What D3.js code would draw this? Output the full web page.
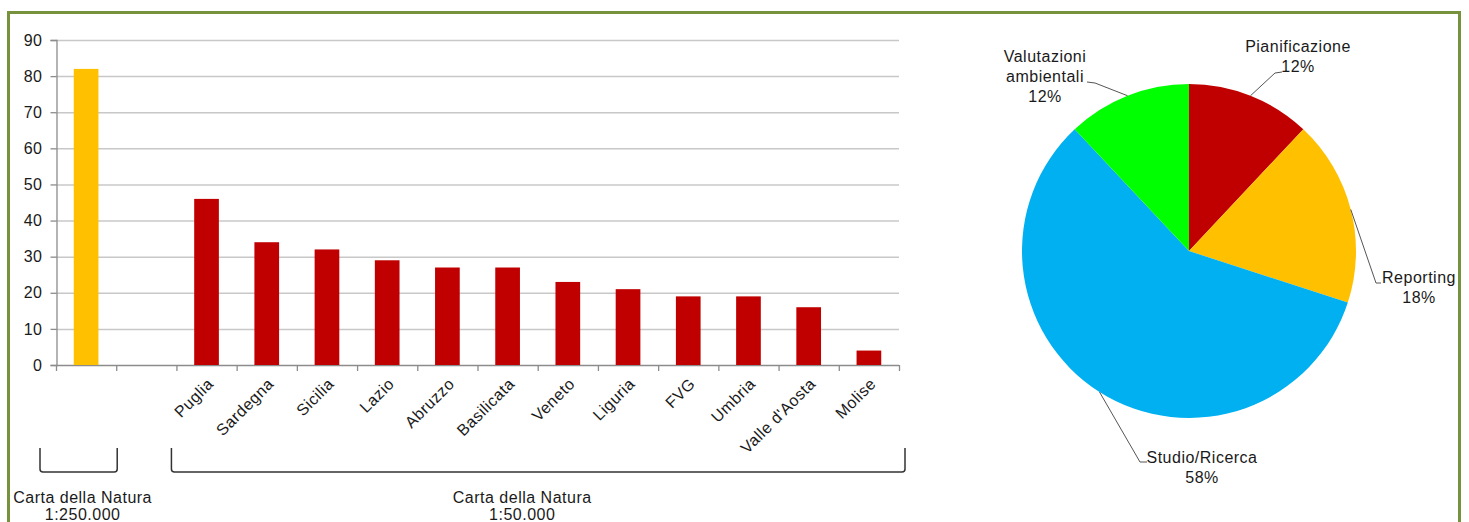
<!DOCTYPE html>
<html><head><meta charset="utf-8">
<script src="https://cdn.jsdelivr.net/npm/d3@7"></script>
<style>
html,body{margin:0;padding:0;background:#fff;}
svg{display:block;font-family:"Liberation Sans",Arial,sans-serif;}
svg text{letter-spacing:0.5px;}
</style></head>
<body>
<svg id="c" width="1469" height="522"></svg>
<script>
// ---- Bar chart data ----
const barCategories = ["CdN 1:250.000", "gap", "Puglia", "Sardegna", "Sicilia", "Lazio", "Abruzzo", "Basilicata", "Veneto", "Liguria", "FVG", "Umbria", "Valle d'Aosta", "Molise"];
const barLabels = ["", "", "Puglia", "Sardegna", "Sicilia", "Lazio", "Abruzzo", "Basilicata", "Veneto", "Liguria", "FVG", "Umbria", "Valle d'Aosta", "Molise"];
const barValues = [82, null, 46, 34, 32, 29, 27, 27, 23, 21, 19, 19, 16, 4];
const barGroup = ["250", null, "50", "50", "50", "50", "50", "50", "50", "50", "50", "50", "50", "50"];
const yTicks = [0, 10, 20, 30, 40, 50, 60, 70, 80, 90];
const groupNames = ["Carta della Natura", "Carta della Natura"];
const groupScales = ["1:250.000", "1:50.000"];

// ---- Pie data ----
const pieLabels = ["Pianificazione", "Reporting", "Studio/Ricerca", "Valutazioni ambientali"];
const pieValues = [12, 18, 58, 12];
const pieColors = ["#C00000", "#FFC000", "#00B0F0", "#00FF00"];

const svg = d3.select("#c");
const textColor = "#1a1a1a";
const FS = 16;

// frame
svg.append("rect").attr("x", 8.5).attr("y", 12.5).attr("width", 1451).attr("height", 530)
  .attr("fill", "none").attr("stroke", "#76923C").attr("stroke-width", 3);

// ---- Bar chart ----
const x = d3.scaleBand().domain(barCategories).range([56, 899]).paddingInner(0).paddingOuter(0);
const y = d3.scaleLinear().domain([0, 90]).range([365, 40]);
const g = svg.append("g");

// gridlines
g.selectAll("line.grid").data(yTicks.filter(t => t > 0)).join("line")
  .attr("x1", 56).attr("x2", 899).attr("y1", d => y(d) + 0.5).attr("y2", d => y(d) + 0.5)
  .attr("stroke", "#c8c8c8").attr("stroke-width", 1.5);

// y axis
const yAxis = g.append("g").attr("transform", "translate(56.5,0)")
  .call(d3.axisLeft(y).tickValues(yTicks).tickSize(6).tickPadding(8));
yAxis.select(".domain").attr("stroke", "#8c8c8c").attr("stroke-width", 1.3);
yAxis.selectAll(".tick line").attr("stroke", "#8c8c8c").attr("stroke-width", 1.3);
yAxis.selectAll(".tick text").attr("font-size", FS).attr("fill", textColor)
  .attr("font-family", '"Liberation Sans",Arial,sans-serif');

// x axis baseline + ticks at band boundaries
g.append("line").attr("x1", 56).attr("x2", 899).attr("y1", y(0) + 0.5).attr("y2", y(0) + 0.5)
  .attr("stroke", "#8c8c8c").attr("stroke-width", 1.3);
const boundaries = barCategories.map(c => x(c)).concat([x.range()[1]]);
g.selectAll("line.xt").data(boundaries).join("line")
  .attr("x1", d => d + 0.5).attr("x2", d => d + 0.5)
  .attr("y1", y(0)).attr("y2", y(0) + 6)
  .attr("stroke", "#8c8c8c").attr("stroke-width", 1.3);

// bars
const bw = x.bandwidth() * 0.41;
g.selectAll("rect.bar").data(barCategories.map((c, i) => ({c, v: barValues[i], grp: barGroup[i]})).filter(d => d.v != null))
  .join("rect")
  .attr("x", d => x(d.c) + (x.bandwidth() - bw) / 2)
  .attr("width", bw)
  .attr("y", d => y(d.v))
  .attr("height", d => y(0) - y(d.v))
  .attr("fill", d => d.grp === "250" ? "#FFC000" : "#C00000");

// rotated labels
g.selectAll("text.xl").data(barCategories.map((c, i) => ({c, l: barLabels[i]})).filter(d => d.l))
  .join("text")
  .attr("transform", d => `translate(${x(d.c) + x.bandwidth() / 2 + 4},${y(0) + 16}) rotate(-45)`)
  .attr("text-anchor", "end").attr("dy", "0.35em")
  .attr("font-size", FS).attr("fill", textColor)
  .text(d => d.l);

// brackets
const bTop = 448, bBot = 472, rr = 3;
function bracket(x1, x2) {
  return `M${x1},${bTop} L${x1},${bBot - rr} Q${x1},${bBot} ${x1 + rr},${bBot} L${x2 - rr},${bBot} Q${x2},${bBot} ${x2},${bBot - rr} L${x2},${bTop}`;
}
const br1 = [x(barCategories[0]) - 16, x(barCategories[0]) + x.bandwidth() + 1];
const br2 = [x(barCategories[2]) - 5, x.range()[1] + 6];
[br1, br2].forEach((b, i) => {
  svg.append("path").attr("d", bracket(b[0], b[1])).attr("fill", "none")
    .attr("stroke", "#333").attr("stroke-width", 1.5);
  const cx = i === 0 ? (b[0] + b[1]) / 2 + 4 : (b[0] + b[1]) / 2 - 16;
  svg.append("text").attr("x", cx).attr("y", 503).attr("text-anchor", "middle")
    .attr("font-size", FS).attr("fill", textColor).text(groupNames[i]);
  svg.append("text").attr("x", cx).attr("y", 520).attr("text-anchor", "middle")
    .attr("font-size", FS).attr("fill", textColor).text(groupScales[i]);
});

// ---- Pie chart ----
const cx = 1189, cy = 251, R = 167;
const pie = d3.pie().sort(null).value(d => d)(pieValues);
const arc = d3.arc().innerRadius(0).outerRadius(R);
const pg = svg.append("g").attr("transform", `translate(${cx},${cy})`);
pg.selectAll("path").data(pie).join("path").attr("d", arc)
  .attr("fill", (d, i) => pieColors[i]);

const total = d3.sum(pieValues);
// label layout: text lines, text centre, first baseline, elbow, end point
const pieLabelLayout = [
  {lines: ["Pianificazione"], tx: 1298, ty: 52, elbow: [1275, 73], end: [1282, 72]},
  {lines: ["Reporting"], tx: 1419, ty: 283, elbow: [1376, 283], end: [1381, 283]},
  {lines: ["Studio/Ricerca"], tx: 1202, ty: 463, elbow: [1140, 462], end: [1147, 462]},
  {lines: ["Valutazioni", "ambientali"], tx: 1045, ty: 61.5, elbow: [1095, 83], end: [1087, 82]}
];
pie.forEach((d, i) => {
  const L = pieLabelLayout[i];
  const mid = (d.startAngle + d.endAngle) / 2;
  const px = cx + R * Math.sin(mid), py = cy - R * Math.cos(mid);
  svg.append("path").attr("d", `M${px},${py} L${L.elbow[0]},${L.elbow[1]} L${L.end[0]},${L.end[1]}`)
    .attr("fill", "none").attr("stroke", "#555").attr("stroke-width", 1);
  const pct = Math.round(pieValues[i] / total * 100) + "%";
  const lines = L.lines.concat([pct]);
  lines.forEach((t, j) => {
    svg.append("text").attr("x", L.tx).attr("y", L.ty + j * 20).attr("text-anchor", "middle")
      .attr("font-size", FS).attr("fill", textColor).text(t);
  });
});
</script>
</body></html>
